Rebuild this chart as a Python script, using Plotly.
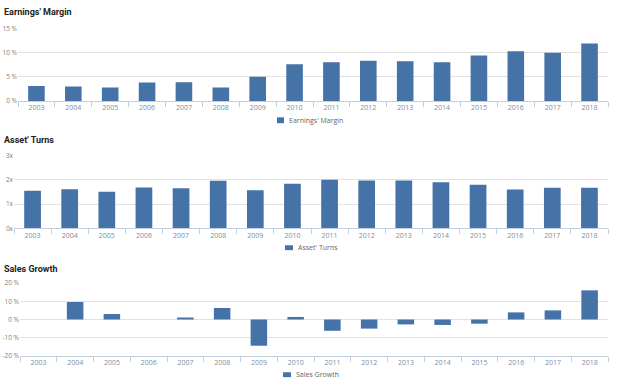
import plotly.graph_objects as go

years = [str(y) for y in range(2003, 2019)]
earnings_margin = [3.1, 3.0, 2.8, 3.8, 3.9, 2.8, 5.0, 7.6, 8.0, 8.3, 8.2, 8.0, 9.4, 10.3, 10.0, 11.9]
asset_turns = [1.55, 1.62, 1.51, 1.69, 1.66, 1.97, 1.57, 1.84, 2.01, 1.98, 1.98, 1.90, 1.80, 1.60, 1.68, 1.68]
sales_growth = [0.0, 9.6, 3.0, 0.0, 1.1, 6.3, -14.4, 1.4, -6.2, -5.0, -2.7, -3.0, -2.3, 3.9, 5.0, 16.0]

panel_titles = ["Earnings' Margin", "Asset' Turns", "Sales Growth"]
series_names = ["Earnings' Margin", "Asset' Turns", "Sales Growth"]

W, H = 624, 386
BAR = "#4572A7"
GRID = "#e2e2e2"
AXLINE = "#C0D0E0"
XLBL = "#7d8ea3"
YLBL = "#808080"
FONT = "Open Sans"
TITLE_FONT = "Roboto"


def px_x(p):
    return p / W


def px_y(p):
    return 1 - p / H


fig = go.Figure()

panels = [
    # values, name, x domain px, y domain px (top, bottom), y range, tickvals, ticktext,
    # legend swatch (x0, x1, y0, y1) px, title y px
    (earnings_margin, series_names[0], (18, 608), (24, 98.3), [0, 15], [0, 5, 10, 15],
     ["0 %", "5 %", "10 %", "15 %"], (277, 284, 115, 121), 7.5),
    (asset_turns, series_names[1], (14, 608), (154.3, 228.7), [0, 3], [0, 1, 2, 3],
     ["0x", "1x", "2x", "3x"], (285, 293, 246, 251), 138),
    (sales_growth, series_names[2], (20, 608), (284.7, 359.3), [-20, 20], [-20, -10, 0, 10, 20],
     ["-20 %", "-10 %", "0 %", "10 %", "20 %"], (283, 291, 376, 381), 270),
]

layout_updates = {}
shapes = []
for i, (vals, name, xd, yd, yr, tv, tt, sw, title_y) in enumerate(panels):
    n = "" if i == 0 else str(i + 1)
    fig.add_trace(go.Bar(
        x=years, y=vals, name=name,
        marker=dict(color=BAR, line=dict(width=0)),
        xaxis="x" + n, yaxis="y" + n,
        showlegend=False,
    ))
    layout_updates["xaxis" + n] = dict(
        domain=[px_x(xd[0]), px_x(xd[1])],
        anchor="y" + n,
        type="category",
        range=[-0.5, len(years) - 0.5],
        showline=True, linecolor=AXLINE, linewidth=1,
        ticks="outside", tickson="boundaries", ticklen=5, tickcolor=AXLINE,
        showgrid=False, zeroline=False,
        tickfont=dict(family=FONT, size=7, color=XLBL),
        fixedrange=True,
    )
    layout_updates["yaxis" + n] = dict(
        domain=[px_y(yd[1]), px_y(yd[0])],
        anchor="x" + n,
        range=yr,
        tickvals=tv, ticktext=tt,
        showgrid=True, gridcolor=GRID, gridwidth=1,
        zeroline=(i == 2), zerolinecolor=GRID, zerolinewidth=1,
        showline=False, ticks="",
        tickfont=dict(family=FONT, size=6.5, color=YLBL),
        fixedrange=True,
    )
    # legend: swatch + label
    shapes.append(dict(
        type="rect", xref="paper", yref="paper",
        x0=px_x(sw[0]), x1=px_x(sw[1]), y0=px_y(sw[3]), y1=px_y(sw[2]),
        fillcolor=BAR, line=dict(width=0),
    ))
    fig.add_annotation(
        text=name, xref="paper", yref="paper",
        x=px_x(sw[1] + 3), y=px_y((sw[2] + sw[3]) / 2),
        xanchor="left", yanchor="middle", showarrow=False,
        font=dict(family=FONT, size=7, color="#666"),
    )
    fig.add_annotation(
        text="<b>" + panel_titles[i] + "</b>",
        xref="paper", yref="paper", x=px_x(2), y=px_y(title_y),
        xanchor="left", yanchor="middle", showarrow=False,
        font=dict(family=TITLE_FONT, size=9, color="#222"),
    )

fig.update_layout(
    width=W, height=H,
    margin=dict(l=0, r=0, t=0, b=0),
    paper_bgcolor="white", plot_bgcolor="white",
    bargap=0.55,
    font=dict(family=FONT),
    shapes=shapes,
    showlegend=False,
    **layout_updates,
)

fig.write_html(
    "out.html",
    config={"displayModeBar": False},
    post_script="document.body.style.margin='0';document.body.style.overflow='hidden';",
)
